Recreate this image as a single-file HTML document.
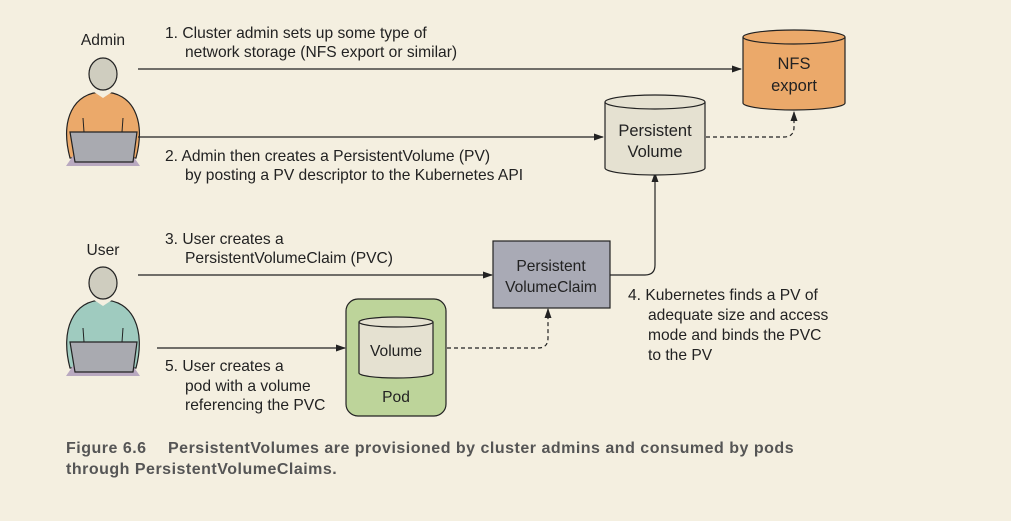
<!DOCTYPE html>
<html><head><style>
html,body{margin:0;padding:0;background:#f4efe0;}
svg{display:block;font-family:"Liberation Sans",sans-serif;}
</style></head><body>
<svg width="1011" height="521" viewBox="0 0 1011 521">
<defs>
<marker id="a" markerWidth="10" markerHeight="8" refX="9" refY="4" orient="auto" markerUnits="userSpaceOnUse"><path d="M0,0.5 L10,4 L0,7.5 Z" fill="#222"/></marker>
</defs>
<rect width="1011" height="521" fill="#f4efe0"/>
<g font-size="15.6" fill="#222">
<!-- Admin -->
<text x="103" y="45" text-anchor="middle">Admin</text>
<path d="M70,158 C60,120 73,92 103,92 C133,92 146,120 136,158 Z" fill="#eba96a" stroke="#222" stroke-width="1.2"/>
<path d="M91,90 L103,98 L115,90 Z" fill="#f4efe0"/>
<line x1="83" y1="118" x2="84" y2="132" stroke="#222"/><line x1="123" y1="118" x2="122" y2="132" stroke="#222"/>
<ellipse cx="103" cy="74" rx="14" ry="16" fill="#cfcdbf" stroke="#222" stroke-width="1.2"/>
<path d="M66,166 L75,153 L131,153 L140,166 Z" fill="#b9a9c0"/>
<path d="M70,132 L137,132 L133,162 L75,162 Z" fill="#a9aab0" stroke="#222" stroke-width="1.2"/>
<!-- User -->
<text x="103" y="255" text-anchor="middle">User</text>
<path d="M70,368 C60,330 73,300 103,300 C133,300 146,330 136,368 Z" fill="#9fcbbf" stroke="#222" stroke-width="1.2"/>
<path d="M91,298 L103,306 L115,298 Z" fill="#f4efe0"/>
<line x1="83" y1="328" x2="84" y2="342" stroke="#222"/><line x1="123" y1="328" x2="122" y2="342" stroke="#222"/>
<ellipse cx="103" cy="283" rx="14" ry="16" fill="#cfcdbf" stroke="#222" stroke-width="1.2"/>
<path d="M66,376 L75,363 L131,363 L140,376 Z" fill="#b9a9c0"/>
<path d="M70,342 L137,342 L133,372 L75,372 Z" fill="#a9aab0" stroke="#222" stroke-width="1.2"/>

<!-- arrows -->
<g stroke="#222" stroke-width="1.2" fill="none">
<line x1="138" y1="69" x2="741" y2="69" marker-end="url(#a)"/>
<line x1="138" y1="137" x2="603" y2="137" marker-end="url(#a)"/>
<line x1="138" y1="275" x2="492" y2="275" marker-end="url(#a)"/>
<line x1="157" y1="348" x2="345" y2="348" marker-end="url(#a)"/>
<path d="M610,275 L645,275 Q655,275 655,265 L655,173" marker-end="url(#a)"/>
<path d="M706,137 L784,137 Q794,137 794,127 L794,112" stroke-dasharray="4,3" marker-end="url(#a)"/>
<path d="M433,348 L538,348 Q548,348 548,338 L548,309" stroke-dasharray="4,3" marker-end="url(#a)"/>
</g>

<!-- NFS -->
<path d="M743,37 L743,103 A51,7 0 0 0 845,103 L845,37" fill="#eba96a" stroke="#222" stroke-width="1.2"/>
<ellipse cx="794" cy="37" rx="51" ry="7" fill="#eba96a" stroke="#222" stroke-width="1.2"/>
<text x="794" y="69" text-anchor="middle" font-size="16.5">NFS</text>
<text x="794" y="91" text-anchor="middle" font-size="16.5">export</text>
<!-- PV -->
<path d="M605,102 L605,168 A50,7 0 0 0 705,168 L705,102" fill="#e5e1d1" stroke="#222" stroke-width="1.2"/>
<ellipse cx="655" cy="102" rx="50" ry="7" fill="#e5e1d1" stroke="#222" stroke-width="1.2"/>
<text x="655" y="136" text-anchor="middle" font-size="16.5">Persistent</text>
<text x="655" y="157" text-anchor="middle" font-size="16.5">Volume</text>
<!-- PVC -->
<rect x="493" y="241" width="117" height="67" fill="#a9aab5" stroke="#222" stroke-width="1.2"/>
<text x="551" y="271" text-anchor="middle">Persistent</text>
<text x="551" y="292" text-anchor="middle">VolumeClaim</text>
<!-- Pod -->
<rect x="346" y="299" width="100" height="117" rx="12" fill="#bdd49a" stroke="#222" stroke-width="1.2"/>
<path d="M359,322 L359,373 A37,5 0 0 0 433,373 L433,322" fill="#e5e1d1" stroke="#222" stroke-width="1.2"/>
<ellipse cx="396" cy="322" rx="37" ry="5" fill="#e5e1d1" stroke="#222" stroke-width="1.2"/>
<text x="396" y="356" text-anchor="middle">Volume</text>
<text x="396" y="402" text-anchor="middle">Pod</text>

<!-- step texts -->
<text x="165" y="38">1. Cluster admin sets up some type of</text>
<text x="185" y="57">network storage (NFS export or similar)</text>
<text x="165" y="161">2. Admin then creates a PersistentVolume (PV)</text>
<text x="185" y="180">by posting a PV descriptor to the Kubernetes API</text>
<text x="165" y="244">3. User creates a</text>
<text x="185" y="263">PersistentVolumeClaim (PVC)</text>
<text x="628" y="300">4. Kubernetes finds a PV of</text>
<text x="648" y="320">adequate size and access</text>
<text x="648" y="340">mode and binds the PVC</text>
<text x="648" y="360">to the PV</text>
<text x="165" y="371">5. User creates a</text>
<text x="185" y="391">pod with a volume</text>
<text x="185" y="410">referencing the PVC</text>
</g>
<g font-size="16" font-weight="bold" fill="#555" letter-spacing="0.5">
<text x="66" y="453">Figure 6.6<tspan x="168">PersistentVolumes are provisioned by cluster admins and consumed by pods</tspan></text>
<text x="66" y="474">through PersistentVolumeClaims.</text>
</g>
</svg>
</body></html>
